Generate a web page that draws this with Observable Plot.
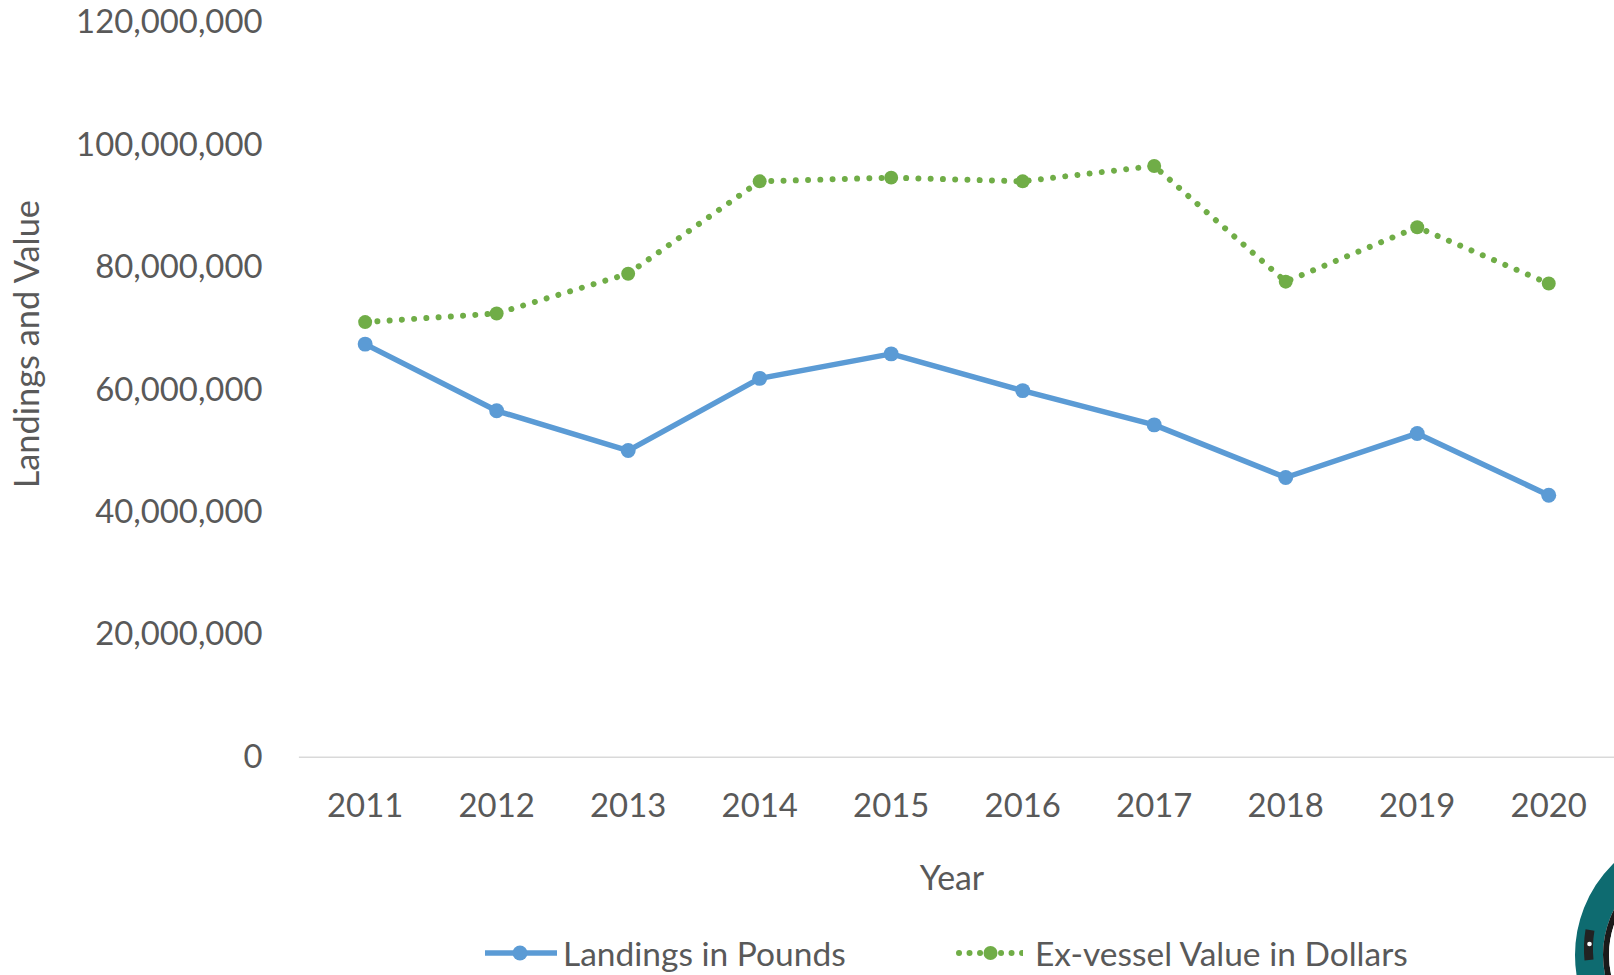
<!DOCTYPE html>
<html>
<head>
<meta charset="utf-8">
<script src="https://cdn.jsdelivr.net/npm/d3@7"></script>
<script src="https://cdn.jsdelivr.net/npm/@observablehq/plot@0.6"></script>
<style>
  html, body { margin: 0; padding: 0; background: #fff; overflow: hidden; }
  #wrap { position: relative; width: 1614px; height: 975px; overflow: hidden; font-family: Lato, "Open Sans", sans-serif; color: #595959; }
  #chart { position: absolute; left: 0; top: 0; }
  .leg { position: absolute; top: 932px; height: 42px; display: flex; align-items: center; font-size: 33.5px; line-height: 1.1; white-space: nowrap; }
  .leg svg { display: block; }
  #logo { position: absolute; left: 1560px; top: 820px; }
</style>
</head>
<body>
<div id="wrap">
  <div id="chart"></div>
  <div class="leg" id="leg1" style="left:485px;"></div>
  <div class="leg" id="leg2" style="left:955px;"></div>
  <svg id="logo" width="60" height="160" viewBox="1560 820 60 160">
    <circle cx="1703" cy="955" r="114" fill="none" stroke="#0e6b70" stroke-width="28"/>
    <circle cx="1703" cy="955" r="97" fill="none" stroke="#1a1a1a" stroke-width="6"/>
    <circle cx="1703" cy="955" r="91" fill="none" stroke="#ffffff" stroke-width="6"/>
    <circle cx="1703" cy="955" r="86" fill="#c8882a" stroke="#1a1a1a" stroke-width="4"/>
    <path d="M 1590 930 A 114 114 0 0 0 1589 960" fill="none" stroke="#222" stroke-width="9"/>
    <circle cx="1589.5" cy="944" r="2.3" fill="#fff"/>
  </svg>
</div>
<script>
const years = ["2011", "2012", "2013", "2014", "2015", "2016", "2017", "2018", "2019", "2020"];
const landingsPounds = [67.5e6, 56.6e6, 50.1e6, 61.9e6, 65.9e6, 59.9e6, 54.3e6, 45.7e6, 52.9e6, 42.8e6];
const exvesselDollars = [71.1e6, 72.5e6, 79.0e6, 94.1e6, 94.7e6, 94.1e6, 96.6e6, 77.7e6, 86.6e6, 77.4e6];
const yTicks = [0, 20e6, 40e6, 60e6, 80e6, 100e6, 120e6];
const seriesNames = ["Landings in Pounds", "Ex-vessel Value in Dollars"];

const blue = "#5B9BD5";
const green = "#70AD47";

const landingsData = years.map((y, i) => ({year: y, value: landingsPounds[i]}));
const valueData = years.map((y, i) => ({year: y, value: exvesselDollars[i]}));

const chart = Plot.plot({
  width: 1620,
  height: 925,
  marginLeft: 300,
  marginRight: 0,
  marginTop: 22.4,
  marginBottom: 165.5,
  style: {fontFamily: "Lato, 'Open Sans', sans-serif", fontSize: "33px", color: "#595959", background: "#fff", overflow: "visible"},
  x: {type: "point", domain: years, padding: 0.5, tickSize: 0, tickPadding: 36.5, label: null},
  y: {domain: [0, 120e6], ticks: yTicks, tickSize: 0, tickPadding: 37, tickFormat: d3.format(","), label: null},
  marks: [
    Plot.ruleY([0], {stroke: "#d9d9d9", strokeWidth: 1.5}),
    Plot.line(valueData, {x: "year", y: "value", stroke: green, strokeWidth: 6, strokeDasharray: "0.01 12.3", strokeLinecap: "round"}),
    Plot.dot(valueData, {x: "year", y: "value", r: 7, fill: green}),
    Plot.line(landingsData, {x: "year", y: "value", stroke: blue, strokeWidth: 5.5, strokeLinejoin: "round"}),
    Plot.dot(landingsData, {x: "year", y: "value", r: 7.5, fill: blue}),
    Plot.text(["Year"], {frameAnchor: "bottom", textAnchor: "middle", lineAnchor: "middle", dy: 122.5, dx: -5, fontSize: 34, fill: "#595959"}),
    Plot.text(["Landings and Value"], {frameAnchor: "left", textAnchor: "middle", lineAnchor: "middle", rotate: -90, dx: -272.5, dy: -46, fontSize: 34.5, fill: "#595959"})
  ]
});
document.getElementById("chart").appendChild(chart);

document.getElementById("leg1").innerHTML =
  `<svg width="72" height="20"><line x1="0" y1="10" x2="72" y2="10" stroke="${blue}" stroke-width="5.5"/><circle cx="35" cy="10" r="7.5" fill="${blue}"/></svg><span style="margin-left:6px">${seriesNames[0]}</span>`;
document.getElementById("leg2").innerHTML =
  `<svg width="68" height="20"><line x1="4" y1="10" x2="68" y2="10" stroke="${green}" stroke-width="6" stroke-dasharray="0.01 10.5" stroke-linecap="round"/><circle cx="35.5" cy="10" r="7" fill="${green}"/></svg><span style="margin-left:12px">${seriesNames[1]}</span>`;
</script>
</body>
</html>
